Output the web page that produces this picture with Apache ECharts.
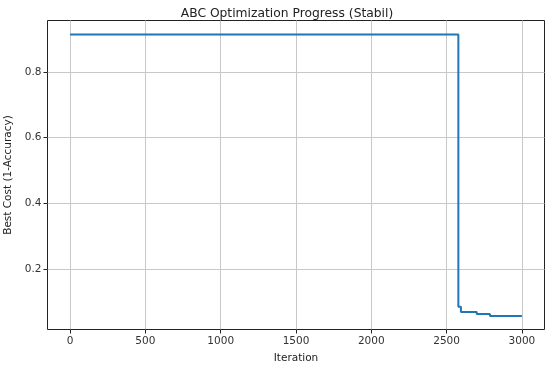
<!DOCTYPE html>
<html><head><meta charset="utf-8">
<script src="https://cdn.jsdelivr.net/npm/echarts@6/dist/echarts.min.js"></script>
<style>html,body{margin:0;padding:0;background:#fff}#c{width:550px;height:368px}</style>
</head><body><div id="c"></div>
<script>
const iterations = [0, 2578, 2595, 2700, 2788, 3000];
const bestCost = [0.914, 0.084, 0.0685, 0.0624, 0.0563, 0.0563];
const xTicks = [0, 500, 1000, 1500, 2000, 2500, 3000];
const yTicks = [0.2, 0.4, 0.6, 0.8];

// step curve: value holds until the next iteration where it improves
const stepData = [];
iterations.forEach((x, i) => {
  if (i > 1) stepData.push([x, bestCost[i - 1]]);
  stepData.push([x, bestCost[i]]);
  if (i === 0) stepData.push([iterations[1], bestCost[0]]);
});

const chart = echarts.init(document.getElementById('c'));
const font = 'DejaVu Sans';
chart.setOption({
  animation: false,
  title: {text: 'ABC Optimization Progress (Stabil)', left: 282, top: 3, textAlign: 'center',
    textStyle: {fontFamily: font, fontSize: 12.3, fontWeight: 'normal', color: '#222'}},
  grid: {left: 47.5, right: 5.5, top: 20.5, bottom: 38.5, show: true, borderColor: '#222', borderWidth: 1,
    containLabel: false, outerBoundsMode: 'none'},
  xAxis: {type: 'value', min: -150, max: 3150,
    name: 'Iteration', nameLocation: 'middle', nameGap: 23,
    nameTextStyle: {fontFamily: font, fontSize: 10.5, color: '#222'},
    axisLine: {show: false, onZero: false},
    axisTick: {show: true, inside: false, length: 4, customValues: xTicks, lineStyle: {color: '#222'}},
    axisLabel: {customValues: xTicks, fontFamily: font, fontSize: 10.5, color: '#333', margin: 6,
      formatter: v => String(v)},
    splitLine: {show: true, lineStyle: {color: '#c8c8c8', width: 1}}},
  yAxis: {type: 'value', min: 0.015, max: 0.957,
    name: 'Best Cost (1-Accuracy)', nameLocation: 'middle', nameGap: 26,
    nameTextStyle: {fontFamily: font, fontSize: 10.5, color: '#222'},
    axisLine: {show: false, onZero: false},
    axisTick: {show: true, inside: false, length: 4, customValues: yTicks, lineStyle: {color: '#222'}},
    axisLabel: {customValues: yTicks, fontFamily: font, fontSize: 10.5, color: '#333', margin: 6,
      formatter: v => v.toFixed(1)},
    splitLine: {show: true, lineStyle: {color: '#c8c8c8', width: 1}}},
  series: [{type: 'line', showSymbol: false, symbol: 'none',
    data: stepData,
    lineStyle: {color: '#1f77b4', width: 2}}]
});
</script></body></html>
